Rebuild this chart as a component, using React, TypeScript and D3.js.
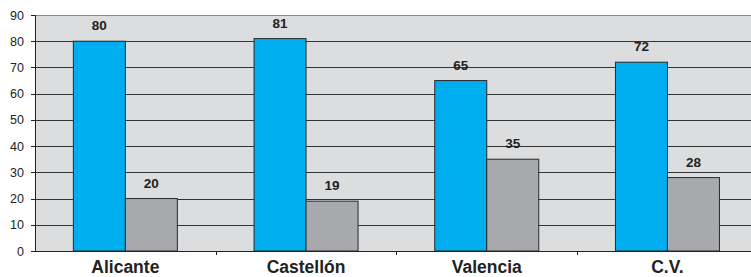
import React from "react";
import * as d3 from "d3";

const categories = ["Alicante", "Castellón", "Valencia", "C.V."];
const seriesA = [80, 81, 65, 72];
const seriesB = [20, 19, 35, 28];
const yTicks = [0, 10, 20, 30, 40, 50, 60, 70, 80, 90];

export default function App() {
  const W = 751, H = 277;
  const left = 35, right = 757.8, top = 15, bottom = 251;
  const x = d3.scaleBand<string>().domain(categories).range([left, right]).paddingInner(0).paddingOuter(0);
  const y = d3.scaleLinear().domain([0, 90]).range([bottom, top]);
  const barW = 52;
  const font = "Liberation Sans, Arial, sans-serif";
  return (
    <svg width={W} height={H} style={{ position: "absolute", left: 0, top: 0 }}>
      <rect x={left} y={top} width={right - left} height={bottom - top} fill="#DCDDDE" />
      <line x1={left} x2={right} y1={top + 0.5} y2={top + 0.5} stroke="#8a8a8a" strokeWidth={1} />
      {yTicks.filter(t => t > 0 && t < 90).map(t => (
        <line key={t} x1={left} x2={right} y1={Math.round(y(t)) + 0.5} y2={Math.round(y(t)) + 0.5} stroke="#333" strokeWidth={1} />
      ))}
      {categories.map((c, i) => {
        const cx = (x(c) as number) + x.bandwidth() / 2;
        return (
          <g key={c}>
            <rect x={cx - barW} y={y(seriesA[i])} width={barW} height={bottom - y(seriesA[i])} fill="#00AEEF" stroke="#2a2a2a" strokeWidth={1} />
            <rect x={cx} y={y(seriesB[i])} width={barW} height={bottom - y(seriesB[i])} fill="#A7A9AC" stroke="#2a2a2a" strokeWidth={1} />
            <text x={cx - barW / 2} y={y(seriesA[i]) - 11} textAnchor="middle" fontFamily={font} fontWeight="bold" fontSize={13.5} fill="#222">{seriesA[i]}</text>
            <text x={cx + barW / 2} y={y(seriesB[i]) - 11} textAnchor="middle" fontFamily={font} fontWeight="bold" fontSize={13.5} fill="#222">{seriesB[i]}</text>
            <text x={cx} y={273} textAnchor="middle" fontFamily={font} fontWeight="bold" fontSize={17.5} fill="#222">{c}</text>
          </g>
        );
      })}
      <line x1={left} x2={right} y1={bottom + 0.5} y2={bottom + 0.5} stroke="#222" strokeWidth={1} />
      <line x1={left + 0.5} x2={left + 0.5} y1={top} y2={bottom} stroke="#222" strokeWidth={1} />
      {categories.slice(1).map(c => (
        <line key={c} x1={Math.round(x(c) as number) + 0.5} x2={Math.round(x(c) as number) + 0.5} y1={bottom} y2={bottom + 4} stroke="#222" />
      ))}
      {yTicks.map(t => (
        <g key={t}>
          <line x1={left - 4} x2={left} y1={Math.round(y(t)) + 0.5} y2={Math.round(y(t)) + 0.5} stroke="#222" />
          <text x={24} y={y(t) + 4.5} textAnchor="end" fontFamily={font} fontSize={12.5} fill="#222">{t}</text>
        </g>
      ))}
    </svg>
  );
}
